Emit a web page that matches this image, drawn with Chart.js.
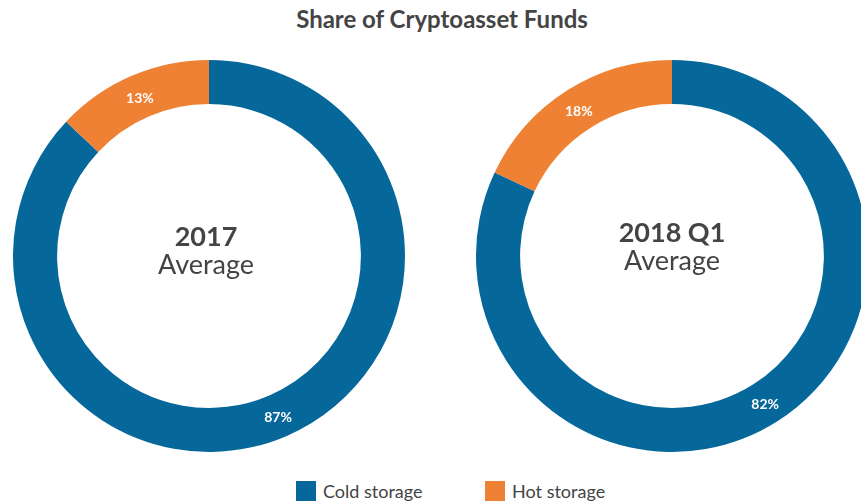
<!DOCTYPE html>
<html>
<head>
<meta charset="utf-8">
<script src="https://cdn.jsdelivr.net/npm/chart.js@4"></script>
<style>
  html, body { margin: 0; padding: 0; background: #fff; overflow: hidden; width: 861px; height: 504px; }
  body { position: relative; font-family: Lato, "Open Sans", sans-serif; color: #444; }
  #title { position: absolute; top: 4px; left: 0; width: 884px; text-align: center; font-weight: bold; font-size: 24px; }
  canvas { position: absolute; }
  #c1 { left: 13px; top: 60px; }
  #c2 { left: 476px; top: 60px; }
  .center { position: absolute; width: 300px; text-align: center; line-height: 28px; font-size: 27px; }
  .center b { display: block; }
  #legend { position: absolute; top: 480px; left: 296px; font-size: 18px; white-space: nowrap; }
  .sw { display: inline-block; width: 20px; height: 20px; vertical-align: -3px; margin-right: 7px; }
</style>
</head>
<body>
<div id="title">Share of Cryptoasset Funds</div>
<canvas id="c1" width="392" height="392"></canvas>
<canvas id="c2" width="392" height="392"></canvas>
<div class="center" style="left:56px; top:222px;"><b>2017</b>Average</div>
<div class="center" style="left:522px; top:218px;"><b>2018 Q1</b>Average</div>
<div id="legend">
  <span class="sw" style="background:#06689a"></span><span style="margin-right:58px">Cold storage</span>
  <span class="sw" style="background:#ef8134"></span><span>Hot storage</span>
</div>
<script>
const categories = ["Cold storage", "Hot storage"];
const avg2017 = [87, 13];
const avg2018q1 = [82, 18];
const colors = ["#06689a", "#ef8134"];

const pctLabels = {
  id: 'pctLabels',
  afterDatasetsDraw(chart) {
    const ctx = chart.ctx;
    const meta = chart.getDatasetMeta(0);
    ctx.save();
    ctx.fillStyle = '#fff';
    ctx.font = 'bold 14px Lato, sans-serif';
    ctx.textAlign = 'center';
    ctx.textBaseline = 'middle';
    meta.data.forEach((arc, i) => {
      const p = arc.tooltipPosition();
      ctx.fillText(chart.data.datasets[0].data[i] + '%', p.x, p.y + 2);
    });
    ctx.restore();
  }
};

function makeDonut(id, values) {
  return new Chart(document.getElementById(id), {
    type: 'doughnut',
    data: {
      labels: categories,
      datasets: [{ data: values, backgroundColor: colors, borderWidth: 0 }]
    },
    options: {
      responsive: false,
      animation: false,
      cutout: '77.5%',
      layout: { padding: 0 },
      plugins: { legend: { display: false }, tooltip: { enabled: false } }
    },
    plugins: [pctLabels]
  });
}

makeDonut('c1', avg2017);
makeDonut('c2', avg2018q1);
</script>
</body>
</html>
